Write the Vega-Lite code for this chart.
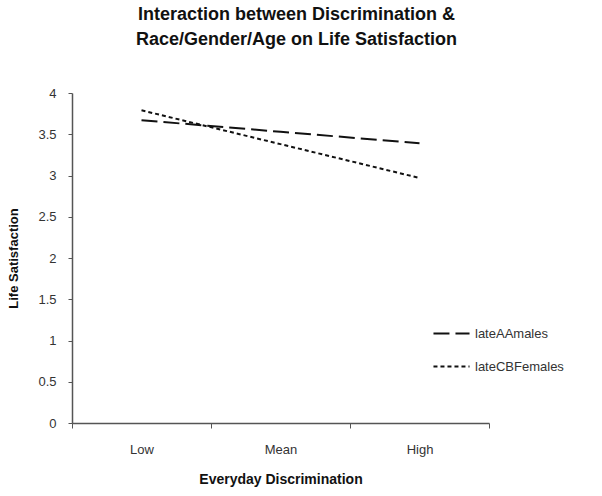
{
  "$schema": "https://vega.github.io/schema/vega-lite/v6.json",
  "autosize": "none",
  "width": 417,
  "height": 330,
  "padding": {"left": 72, "top": 93, "right": 113, "bottom": 73},
  "background": "white",
  "config": {"view": {"stroke": null}},
  "title": {
    "text": ["Interaction between Discrimination &", "Race/Gender/Age on Life Satisfaction"],
    "font": "Liberation Sans",
    "fontSize": 18,
    "fontWeight": "bold",
    "lineHeight": 25,
    "anchor": "middle",
    "dx": 16,
    "offset": 38,
    "color": "#111"
  },
  "data": {
    "values": [
      {"level": "Low", "group": "lateAAmales", "value": 3.67},
      {"level": "Mean", "group": "lateAAmales", "value": 3.53},
      {"level": "High", "group": "lateAAmales", "value": 3.39},
      {"level": "Low", "group": "lateCBFemales", "value": 3.79},
      {"level": "Mean", "group": "lateCBFemales", "value": 3.38},
      {"level": "High", "group": "lateCBFemales", "value": 2.97}
    ]
  },
  "mark": {"type": "line", "color": "#111", "strokeWidth": 2},
  "encoding": {
    "x": {
      "field": "level", "type": "ordinal", "sort": ["Low", "Mean", "High"],
      "bandPosition": 0.5,
      "scale": {"type": "band", "paddingInner": 0, "paddingOuter": 0},
      "axis": {
        "title": "Everyday Discrimination",
        "labelAngle": 0,
        "tickBand": "extent",
        "labelFont": "Liberation Sans", "labelFontSize": 13, "labelColor": "#333", "labelPadding": 15,
        "titleFont": "Liberation Sans", "titleFontSize": 14, "titleFontWeight": "bold", "titleColor": "#111", "titlePadding": 16,
        "domainColor": "#555", "tickColor": "#555", "tickSize": 5, "domainWidth": 1.5
      }
    },
    "y": {
      "field": "value", "type": "quantitative",
      "scale": {"domain": [0, 4]},
      "axis": {
        "title": "Life Satisfaction",
        "values": [0, 0.5, 1, 1.5, 2, 2.5, 3, 3.5, 4],
        "format": "~g",
        "grid": false,
        "labelFont": "Liberation Sans", "labelFontSize": 13, "labelColor": "#333", "labelPadding": 12,
        "titleFont": "Liberation Sans", "titleFontSize": 13, "titleFontWeight": "bold", "titleColor": "#111", "titlePadding": 17,
        "domainColor": "#555", "tickColor": "#555", "tickSize": 4, "domainWidth": 1.5
      }
    },
    "strokeDash": {
      "field": "group", "type": "nominal",
      "scale": {"domain": ["lateAAmales", "lateCBFemales"], "range": [[16, 6], [4, 3]]},
      "legend": {
        "title": null,
        "orient": "none",
        "legendX": 360,
        "legendY": 221,
        "symbolType": "stroke",
        "symbolSize": 1300,
        "symbolStrokeWidth": 2,
        "symbolStrokeColor": "#111",
        "labelFont": "Liberation Sans", "labelFontSize": 13, "labelColor": "#333",
        "rowPadding": 6,
        "labelOffset": 4
      }
    }
  }
}
